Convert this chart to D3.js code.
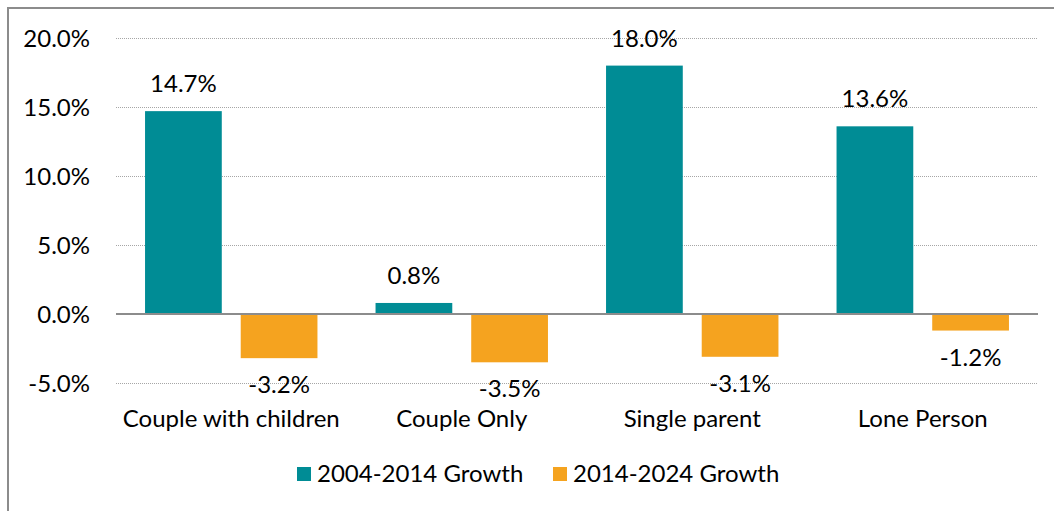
<!DOCTYPE html>
<html><head><meta charset="utf-8">
<script src="https://cdn.jsdelivr.net/npm/d3@7"></script>
<style>
body{margin:0;background:#fff;}
text{font-family:"Lato","Open Sans",sans-serif;fill:#000;}
</style></head>
<body><svg id="c" width="1054" height="511"></svg>
<script>
const categories = ["Couple with children","Couple Only","Single parent","Lone Person"];
const seriesNames = ["2004-2014 Growth","2014-2024 Growth"];
const growth0414 = [14.7, 0.8, 18.0, 13.6];
const growth1424 = [-3.2, -3.5, -3.1, -1.2];
const yTicks = [-5, 0, 5, 10, 15, 20];
const colors = ["#008C95", "#F5A31F"];
const FS = "24px";

const svg = d3.select("#c");
const W = 1054, H = 511;
const plot = {left:116, right:1038, top:38, bottom:383};

// border
svg.append("rect").attr("x",8).attr("y",8).attr("width",W+10).attr("height",H+10)
  .attr("fill","none").attr("stroke","#8c8c8c").attr("stroke-width",2);

const y = d3.scaleLinear().domain([-5,20]).range([plot.bottom, plot.top]);
const x0 = d3.scaleBand().domain(categories).range([plot.left, plot.right]).paddingInner(0).paddingOuter(0);
const bw = x0.bandwidth();
const x1 = d3.scaleBand().domain(seriesNames).range([bw*0.126, bw*(1-0.126)]).paddingInner(0.198).paddingOuter(0);

// gridlines
svg.append("g").selectAll("line").data(yTicks.filter(d=>d!==0)).join("line")
  .attr("x1",plot.left).attr("x2",plot.right)
  .attr("y1",d=>Math.round(y(d))+0.5).attr("y2",d=>Math.round(y(d))+0.5)
  .attr("stroke","#a6a6a6").attr("stroke-width",1).attr("stroke-dasharray","1,1");

// y axis labels
const yAxis = d3.axisLeft(y).tickValues(yTicks).tickFormat(d=>d.toFixed(1)+"%").tickSize(0).tickPadding(26);
const yg = svg.append("g").attr("transform",`translate(${plot.left},0)`).call(yAxis);
yg.select(".domain").remove();
yg.selectAll("text").style("font-size",FS).attr("dy","0.36em");

const data = categories.map((c,i)=>({cat:c, vals:[growth0414[i], growth1424[i]]}));

const groups = svg.append("g").selectAll("g").data(data).join("g")
  .attr("transform",d=>`translate(${x0(d.cat)},0)`);

groups.selectAll("rect").data(d=>d.vals.map((v,j)=>({v, s:seriesNames[j], j}))).join("rect")
  .attr("x",d=>x1(d.s)).attr("width",x1.bandwidth())
  .attr("y",d=>Math.min(y(d.v),y(0))).attr("height",d=>Math.abs(y(d.v)-y(0)))
  .attr("fill",d=>colors[d.j]);

groups.selectAll("text.val").data(d=>d.vals.map((v,j)=>({v, s:seriesNames[j], j}))).join("text")
  .attr("class","val")
  .attr("x",d=>x1(d.s)+x1.bandwidth()/2)
  .attr("y",d=>d.v>=0 ? y(d.v)-19 : y(d.v)+35)
  .attr("text-anchor","middle").style("font-size",FS)
  .text(d=>d.v.toFixed(1)+"%");

// zero line
svg.append("line").attr("x1",plot.left).attr("x2",plot.right)
  .attr("y1",y(0)).attr("y2",y(0)).attr("stroke","#8c8c8c").attr("stroke-width",2);

// x labels
const xAxis = d3.axisBottom(x0).tickSize(0).tickPadding(0);
const xg = svg.append("g").attr("transform",`translate(0,427)`).call(xAxis);
xg.select(".domain").remove();
xg.selectAll("text").style("font-size",FS).attr("dy","0");

// legend
const legX = [297, 553];
const lg = svg.append("g").selectAll("g").data(seriesNames).join("g")
  .attr("transform",(d,i)=>`translate(${legX[i]},467)`);
lg.append("rect").attr("width",14).attr("height",14).attr("fill",(d,i)=>colors[i]);
lg.append("text").attr("x",20).attr("y",15).style("font-size",FS).text(d=>d);
</script></body></html>
